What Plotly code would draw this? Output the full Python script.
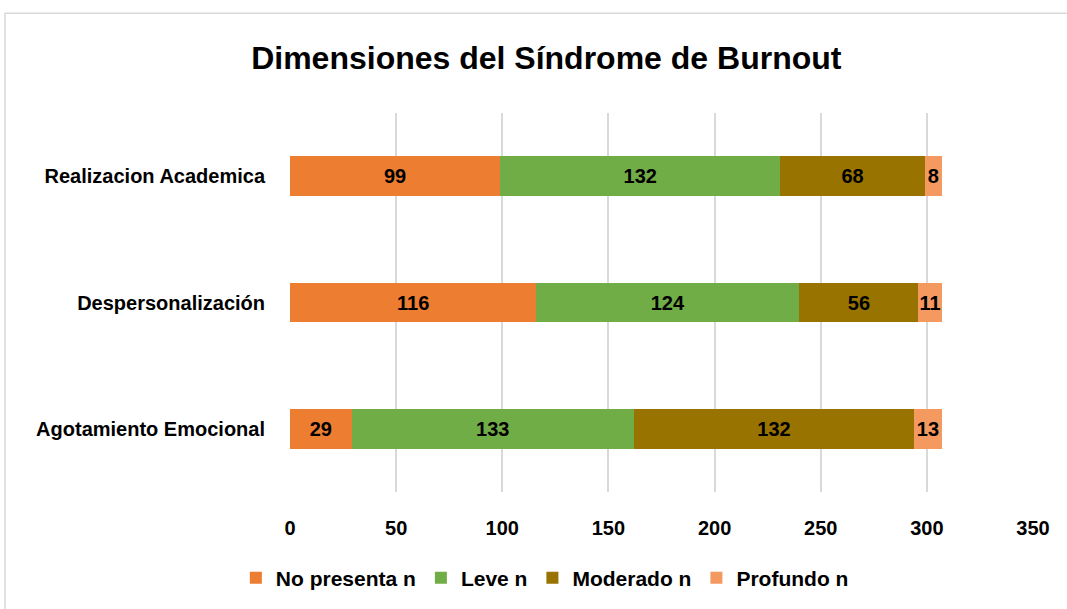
import plotly.graph_objects as go

categories = ["Agotamiento Emocional", "Despersonalización", "Realizacion Academica"]
series_names = ["No presenta n", "Leve n", "Moderado n", "Profundo n"]
no_presenta = [29, 116, 99]
leve = [133, 124, 132]
moderado = [132, 56, 68]
profundo = [13, 11, 8]
colors = ["#ED7D31", "#70AD47", "#997300", "#F4995F"]
x_ticks = [0, 50, 100, 150, 200, 250, 300, 350]

FONT = "Liberation Sans"
fig = go.Figure()
for name, vals, col in zip(series_names, [no_presenta, leve, moderado, profundo], colors):
    fig.add_trace(go.Bar(
        y=categories, x=vals, name=name, orientation="h",
        marker=dict(color=col, line=dict(width=0)),
        text=[str(v) for v in vals], textposition="inside", textangle=0,
        insidetextanchor="middle", constraintext="none",
        textfont=dict(family=FONT, size=20, color="black", weight="bold"),
    ))

fig.update_layout(
    barmode="stack", bargap=0.685,
    width=1067, height=609,
    margin=dict(l=290, r=34, t=113, b=116),
    paper_bgcolor="white", plot_bgcolor="white",
    title=dict(text="<b>Dimensiones del Síndrome de Burnout</b>", x=0.512, xanchor="center",
               y=0.905, yanchor="middle", font=dict(family=FONT, size=32, color="black")),
    xaxis=dict(range=[0, 350], tickvals=x_ticks, showgrid=True, gridcolor="#D9D9D9", gridwidth=1.5,
               zeroline=False, showline=False, ticks="outside", ticklen=18,
               tickcolor="rgba(0,0,0,0)",
               tickfont=dict(family=FONT, size=20, color="black", weight="bold")),
    yaxis=dict(showgrid=False, zeroline=False, showline=False, ticks="outside", ticklen=20,
               tickcolor="rgba(0,0,0,0)",
               tickfont=dict(family=FONT, size=20, color="black", weight="bold")),
    legend=dict(orientation="h", x=0.343, xanchor="center", y=-0.224, yanchor="middle",
                traceorder="normal",
                font=dict(family=FONT, size=21, color="black", weight="bold"),
                itemwidth=30, tracegroupgap=0),
    showlegend=True,
    shapes=[dict(type="rect", xref="paper", yref="paper", x0=-0.3836, x1=1.06, y0=-0.32, y1=1.263,
                 line=dict(color="#D9D9D9", width=1.5), fillcolor="rgba(0,0,0,0)", layer="below")],
)
fig.write_html("out.html", config={"displayModeBar": False},
               post_script="document.body.style.margin='0';")
